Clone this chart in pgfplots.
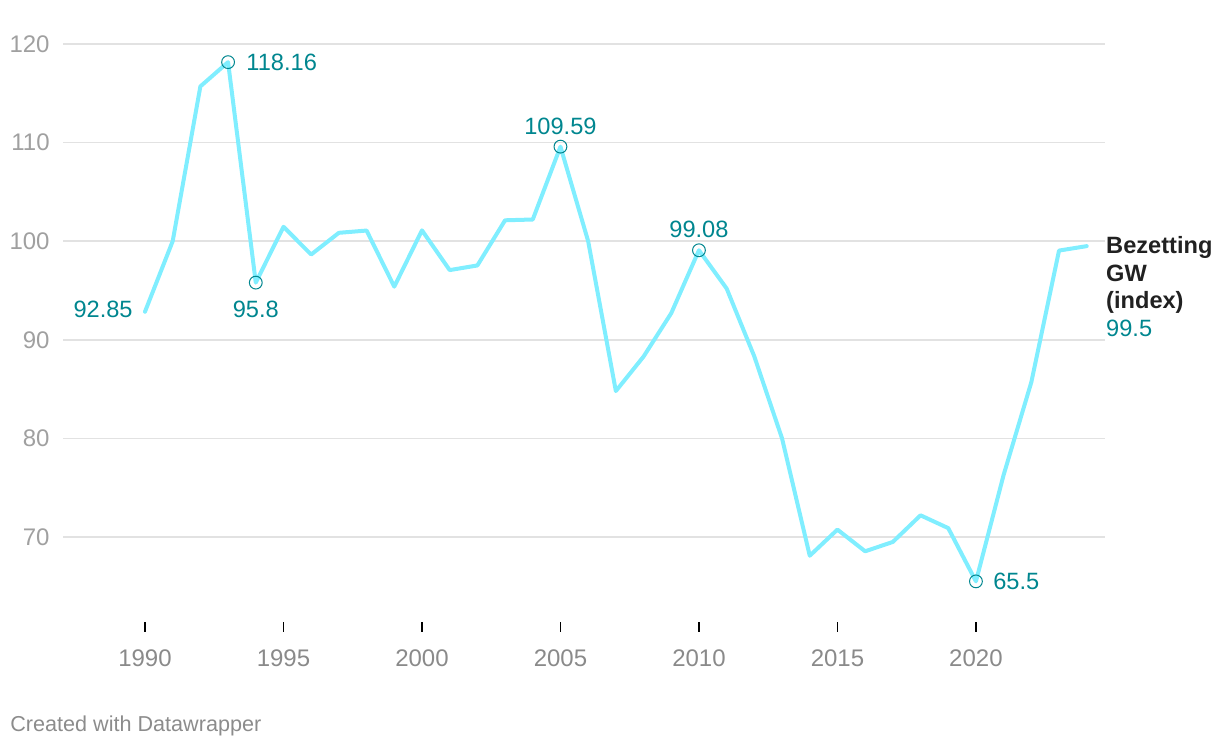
\documentclass[border=0pt]{standalone}
\usepackage{fontspec}
\setmainfont{Liberation Sans}
\usepackage{pgfplots}
\pgfplotsset{compat=1.18}
\definecolor{linecyan}{HTML}{80EEFF}
\definecolor{labelteal}{HTML}{00868F}
\definecolor{ytickgrey}{HTML}{A0A0A0}
\definecolor{xtickgrey}{HTML}{8A8A8A}
\definecolor{gridgrey}{HTML}{E2E2E2}
\definecolor{footgrey}{HTML}{8C8C8C}

\begin{document}
\begin{tikzpicture}
\useasboundingbox (0,0) rectangle (610pt,374pt);
\begin{axis}[
    at={(31.5pt,63pt)}, anchor=south west,
    scale only axis, width=521pt, height=298.85pt,
    xmin=1987.04, xmax=2024.66,
    ymin=61.38, ymax=122,
    clip=false,
    axis line style={draw=none},
    xtick={1990,1995,...,2020},
    ytick={70,80,...,120},
    xtick pos=bottom, ytick pos=left,
    tick align=outside,
    major tick length=5pt,
    xtick style={black, line width=0.9pt},
    ytick style={draw=none},
    ymajorgrids,
    grid style={gridgrey, line width=0.75pt},
    /pgf/number format/assume math mode=true,
    /pgf/number format/1000 sep={},
    ticklabel style={font=\fontsize{12}{14}\selectfont},
    xticklabel style={xtickgrey, inner sep=0pt, yshift=-8.5pt},
    yticklabel style={ytickgrey, anchor=east, inner sep=0pt, xshift=-1.5pt},
  ]
  \addplot[linecyan, line width=2pt, line join=round, line cap=round] coordinates {
    (1990,92.85) (1991,100.0) (1992,115.7) (1993,118.16) (1994,95.8)
    (1995,101.46) (1996,98.65) (1997,100.85) (1998,101.08) (1999,95.39)
    (2000,101.1) (2001,97.07) (2002,97.54) (2003,102.12) (2004,102.2)
    (2005,109.59) (2006,100.0) (2007,84.8) (2008,88.3) (2009,92.7)
    (2010,99.08) (2011,95.2) (2012,88.3) (2013,80.0) (2014,68.1)
    (2015,70.75) (2016,68.55) (2017,69.5) (2018,72.2) (2019,70.9)
    (2020,65.5) (2021,76.3) (2022,85.7) (2023,99.05) (2024,99.5)
  };
  \addplot[only marks, mark=o, mark size=3.2pt, mark options={labelteal, line width=0.5pt}] coordinates {
    (1993,118.16) (1994,95.8) (2005,109.59) (2010,99.08) (2020,65.5)
  };
  \begin{scope}[every node/.style={labelteal, font=\fontsize{11.8}{13}\selectfont, inner sep=0pt}]
    \node[anchor=west, xshift=9pt] at (axis cs:1993,118.16) {118.16};
    \node[anchor=east, xshift=-6pt, yshift=1pt] at (axis cs:1990,92.85) {92.85};
    \node[anchor=north, yshift=-9pt] at (axis cs:1994,95.8) {95.8};
    \node[anchor=south, yshift=6pt] at (axis cs:2005,109.59) {109.59};
    \node[anchor=south, yshift=6pt] at (axis cs:2010,99.08) {99.08};
    \node[anchor=west, xshift=8.5pt] at (axis cs:2020,65.5) {65.5};
  \end{scope}
  \node[anchor=north west, inner sep=0pt, align=left, text=black!87,
        font=\fontsize{11.8}{13.75}\selectfont] at (axis cs:2024.69,100.5)
    {\textbf{Bezetting}\\\textbf{GW}\\\textbf{(index)}\\\textcolor{labelteal}{99.5}};
\end{axis}
\node[anchor=west, inner sep=0pt, footgrey, font=\fontsize{10.8}{12}\selectfont] at (5pt,11pt) {Created with Datawrapper};
\end{tikzpicture}
\end{document}
